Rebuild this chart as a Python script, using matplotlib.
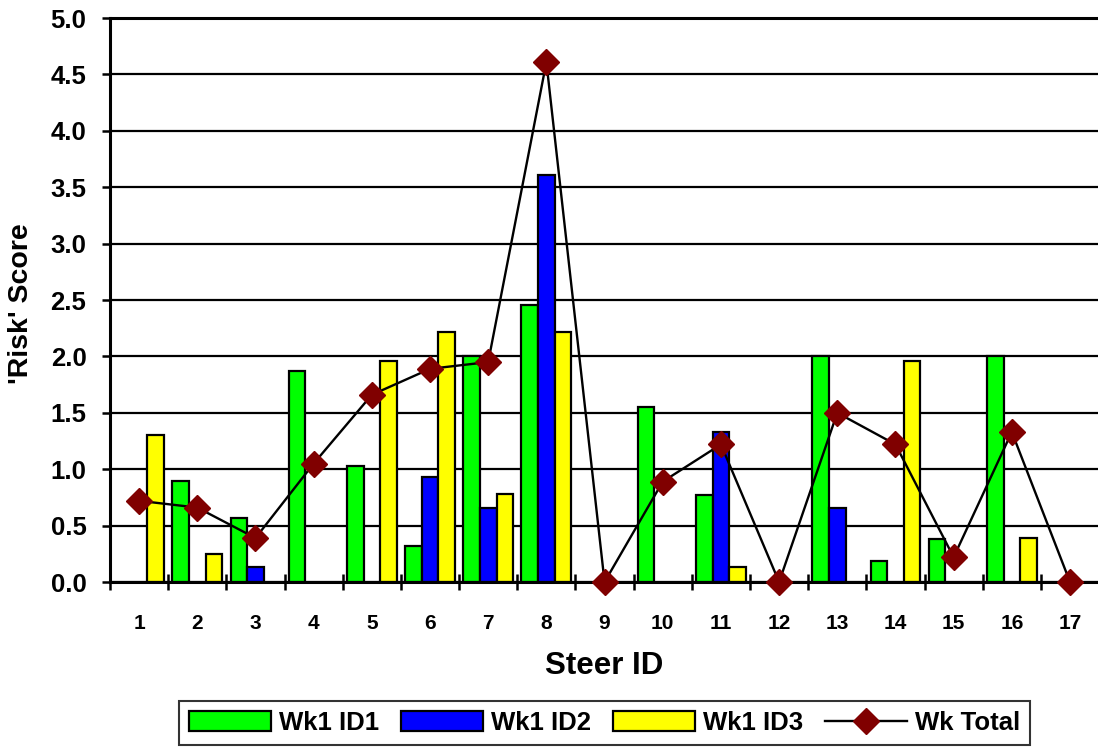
import numpy as np
import matplotlib
matplotlib.use('Agg')
import matplotlib.pyplot as plt
from matplotlib.ticker import MultipleLocator, FixedLocator

plt.rcParams['font.family'] = ['Liberation Sans', 'DejaVu Sans']
plt.rcParams['font.weight'] = 'bold'

# Data
steer_ids = [str(i) for i in range(1, 18)]
wk1_id1 = [0, 0.90, 0.57, 1.87, 1.03, 0.32, 2.00, 2.46, 0, 1.55, 0.77, 0, 2.00, 0.19, 0.38, 2.00, 0]
wk1_id2 = [0, 0, 0.13, 0, 0, 0.93, 0.66, 3.61, 0, 0, 1.33, 0, 0.66, 0, 0, 0, 0]
wk1_id3 = [1.30, 0.25, 0, 0, 1.96, 2.22, 0.78, 2.22, 0, 0, 0.13, 0, 0, 1.96, 0, 0.39, 0]
wk_total = [0.72, 0.66, 0.39, 1.05, 1.66, 1.89, 1.95, 4.61, 0, 0.89, 1.22, 0, 1.50, 1.22, 0.22, 1.33, 0]

x = np.arange(1, len(steer_ids) + 1)
w = 0.286

fig = plt.figure(figsize=(10.98, 7.51), dpi=100)
ax = fig.add_axes([0.1002, 0.2250, 0.9008, 0.7510])

# Bars
bar_kw = dict(width=w, edgecolor='black', linewidth=1.6, zorder=2)
handles = []
for vals, off, col, lab in [(wk1_id1, -w, '#00FF00', 'Wk1 ID1'),
                            (wk1_id2, 0, '#0000FF', 'Wk1 ID2'),
                            (wk1_id3, w, '#FFFF00', 'Wk1 ID3')]:
    v = np.array(vals)
    m = v > 0
    handles.append(ax.bar(x[m] + off, v[m], color=col, label=lab, **bar_kw))

# Total line
line, = ax.plot(x, wk_total, color='black', linewidth=1.7, marker='D', markersize=13,
                markerfacecolor='#800000', markeredgecolor='#800000', zorder=3,
                label='Wk Total', clip_on=False)
handles.append(line)

ax.set_xlim(0.5, 17.5)
ax.set_ylim(0, 5.0)

# Y axis
ax.yaxis.set_major_locator(MultipleLocator(0.5))
ax.set_yticklabels([f'{t:.1f}' for t in ax.get_yticks()])
ax.tick_params(axis='y', direction='out', length=6, width=1.8, pad=11, labelsize=18.5)
ax.grid(axis='y', color='black', linewidth=1.6, zorder=0)
ax.set_axisbelow(True)

# X axis: labels at centres, ticks at boundaries
ax.set_xticks(x)
ax.set_xticklabels(steer_ids)
ax.tick_params(axis='x', which='major', length=0, pad=23, labelsize=15)
ax.xaxis.set_minor_locator(FixedLocator(np.arange(0.5, 18, 1)))
ax.tick_params(axis='x', which='minor', direction='inout', length=12, width=1.8)

for s in ['left', 'bottom', 'top']:
    ax.spines[s].set_linewidth(2.2)
    ax.spines[s].set_color('black')
ax.spines['right'].set_visible(False)

ax.set_xlabel('Steer ID', fontsize=22.5, fontweight='bold')
ax.xaxis.set_label_coords(0.5, -0.122)
ax.set_ylabel("'Risk' Score", fontsize=20.5, fontweight='bold')
ax.yaxis.set_label_coords(-0.077, 0.493)

leg = fig.legend(handles=handles, labels=['Wk1 ID1', 'Wk1 ID2', 'Wk1 ID3', 'Wk Total'],
                 loc='center', bbox_to_anchor=(0.5505, 0.0373), ncol=4,
                 fontsize=18.5, frameon=True, fancybox=False, edgecolor='black',
                 handlelength=3.2, handleheight=0.8, handletextpad=0.3,
                 columnspacing=0.85, borderpad=0.4, borderaxespad=0)
leg.get_frame().set_linewidth(1.5)

fig.savefig('out.png', dpi=100)
